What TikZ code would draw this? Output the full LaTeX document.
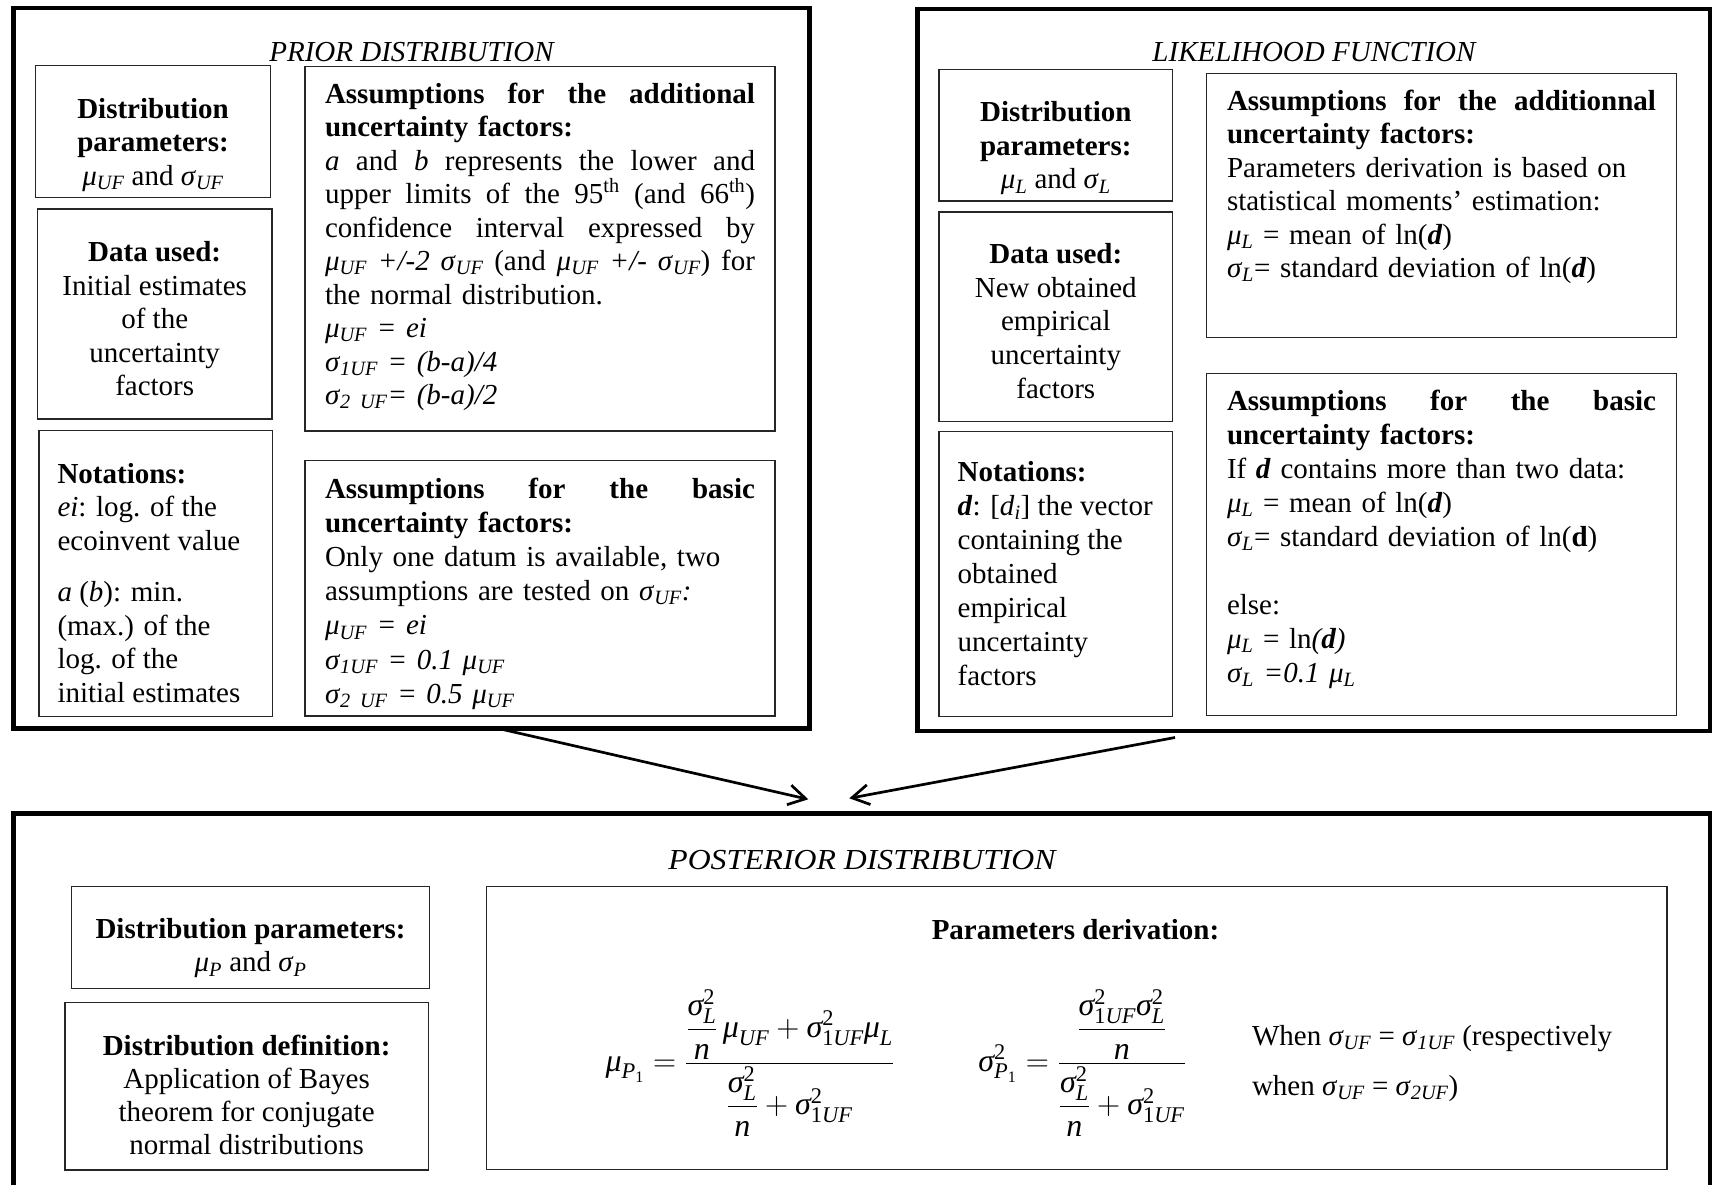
\RequirePackage{fix-cm}
\documentclass[tikz,border=0pt]{standalone}
\usepackage{amsmath}
\usepackage{fontspec}
\setmainfont{Liberation Serif}
\usetikzlibrary{arrows.meta}
\newcommand\mU[1]{\textit{μ}\textsubscript{\itshape #1}}
\newcommand\sU[1]{\textit{σ}\textsubscript{\itshape #1}}
\newcommand\Fs{\text{\itshape σ}}
\newcommand\Fm{\text{\itshape μ}}
\newcommand\Ft[1]{\text{\itshape #1}}
\newcommand\Fn[1]{\text{\upshape #1}}
\newcommand\jline[2]{\leavevmode\hbox to #1{\spaceskip=0.25em plus 1fil\xspaceskip=0.25em plus 1fil #2}}
\tikzset{
  outerbox/.style={draw=black, line width=4.7pt, inner sep=0pt, outer sep=0pt, anchor=north west},
  innerbox/.style={draw=black!85, line width=1.3pt, inner sep=0pt, outer sep=0pt, anchor=north west},
  txt/.style={inner sep=0pt, outer sep=0pt, font=\fontsize{29}{33.5}\selectfont},
  fml/.style={inner sep=0pt, outer sep=0pt, font=\fontsize{32}{36}\selectfont, anchor=base west},
  ttl/.style={inner sep=0pt, outer sep=0pt, font=\fontsize{29}{33.5}\selectfont\itshape, anchor=base},
  arr/.style={line width=2.7pt, -{Straight Barb[length=17pt,width=20pt]}},
}
\begin{document}
\begin{tikzpicture}[x=1pt,y=-1pt]
\useasboundingbox (0,0) rectangle (1714,1184);
\clip (0,0) rectangle (1714,1184);

% outer boxes
\node[outerbox, minimum width=796pt, minimum height=720.5pt] (prior) at (13.5,8) {};
\node[outerbox, minimum width=792.5pt, minimum height=722pt] (lik) at (917.5,9) {};
\node[outerbox, minimum width=1696.5pt, minimum height=386.5pt] (post) at (13.5,813.5) {};

% titles
\node[ttl] (priort) at (411.5,61.7) {PRIOR DISTRIBUTION};
\node[ttl] (likt) at (1314,61.7) {LIKELIHOOD FUNCTION};
\node[ttl] (postt) at (862,869.5) {\scalebox{1.095}[1]{POSTERIOR DISTRIBUTION}};

% prior inner boxes
\node[innerbox, minimum width=234.8pt, minimum height=131.6pt] (dp1) at (35.6,65.7) {};
\node[innerbox, minimum width=234.5pt, minimum height=210pt] (du1) at (37.5,209) {};
\node[innerbox, minimum width=233.5pt, minimum height=286pt] (no1) at (39,430.7) {};
\node[innerbox, minimum width=470pt, minimum height=364.3pt] (aa1) at (305,66.7) {};
\node[innerbox, minimum width=470pt, minimum height=255.3pt] (ab1) at (305,460.7) {};

% likelihood inner boxes
\node[innerbox, minimum width=233.6pt, minimum height=131.7pt] (dp2) at (939,69.3) {};
\node[innerbox, minimum width=233.6pt, minimum height=209.7pt] (du2) at (939,212) {};
\node[innerbox, minimum width=233.6pt, minimum height=285pt] (no2) at (939,431.7) {};
\node[innerbox, minimum width=470.3pt, minimum height=264pt] (aa2) at (1206.4,73.3) {};
\node[innerbox, minimum width=470.3pt, minimum height=342.4pt] (ab2) at (1206.4,373.3) {};

% posterior inner boxes
\node[innerbox, minimum width=357.6pt, minimum height=101.6pt] (dp3) at (71.8,886.7) {};
\node[innerbox, minimum width=363.3pt, minimum height=167.7pt] (dd3) at (64.9,1002.3) {};
\node[innerbox, minimum width=1180.2pt, minimum height=282.6pt] (pd3) at (486.8,886.7) {};

% prior texts
\node[txt, anchor=north, align=center] (dp1t) at (153,94.55)
  {\strut\textbf{Distribution}\\\textbf{parameters:}\\\mU{UF} and \sU{UF}};
\node[txt, anchor=north, align=center] (du1t) at (154.7,238.25)
  {\strut\textbf{Data used:}\\Initial estimates\\of the\\uncertainty\\factors};
\node[txt, anchor=north west, align=left] (no1t) at (57.5,459.55)
  {\strut\textbf{Notations:}\\\textit{ei}: log. of the\\ecoinvent value\\[18pt]\textit{a} (\textit{b}): min.\\(max.) of the\\log. of the\\initial estimates};
\node[txt, anchor=north west, align=left, text width=430pt] (aa1t) at (325,79.55)
  {\strut\jline{430pt}{\textbf{Assumptions for the additional}}\\
   \textbf{uncertainty factors:}\\
   \jline{430pt}{\textit{a} and \textit{b} represents the lower and}\\
   \jline{430pt}{upper limits of the 95\textsuperscript{th} (and 66\textsuperscript{th})}\\
   \jline{430pt}{confidence interval expressed by}\\
   \jline{430pt}{\mU{UF} \textit{+/-2} \sU{UF} (and \mU{UF} \textit{+/-} \sU{UF}) for}\\
   the normal distribution.\\
   \mU{UF} \textit{= ei}\\
   \sU{1UF} \textit{= (b-a)/4}\\
   \sU{2 UF}\textit{= (b-a)/2}};
\node[txt, anchor=north west, align=left, text width=430pt, font=\fontsize{29}{34.2}\selectfont] (ab1t) at (325,474.06)
  {\strut\jline{430pt}{\textbf{Assumptions for the basic}}\\
   \textbf{uncertainty factors:}\\
   Only one datum is available, two\\
   assumptions are tested on \sU{UF}\textit{:}\\
   \mU{UF} \textit{= ei}\\
   \sU{1UF} \textit{= 0.1} \mU{UF}\\
   \sU{2 UF} \textit{= 0.5} \mU{UF}};

% likelihood texts
\node[txt, anchor=north, align=center] (dp2t) at (1055.8,98.25)
  {\strut\textbf{Distribution}\\\textbf{parameters:}\\\mU{L} and \sU{L}};
\node[txt, anchor=north, align=center, font=\fontsize{29}{33.75}\selectfont] (du2t) at (1055.8,239.67)
  {\strut\textbf{Data used:}\\New obtained\\empirical\\uncertainty\\factors};
\node[txt, anchor=north west, align=left, font=\fontsize{29}{33.9}\selectfont] (no2t) at (957.7,457.97)
  {\strut\textbf{Notations:}\\\textbf{\textit{d}}: [\textit{d}\textsubscript{\itshape i}] the vector\\containing the\\obtained\\empirical\\uncertainty\\factors};
\node[txt, anchor=north west, align=left, text width=429pt] (aa2t) at (1227,86.55)
  {\strut\jline{429pt}{\textbf{Assumptions for the additionnal}}\\
   \textbf{uncertainty factors:}\\
   Parameters derivation is based on\\
   statistical moments’ estimation:\\
   \mU{L} = mean of ln(\textbf{\textit{d}})\\
   \sU{L}= standard deviation of ln(\textbf{\textit{d}})};
\node[txt, anchor=north west, align=left, text width=429pt, font=\fontsize{29}{34}\selectfont] (ab2t) at (1227,386.2)
  {\strut\jline{429pt}{\textbf{Assumptions for the basic}}\\
   \textbf{uncertainty factors:}\\
   If \textbf{\textit{d}} contains more than two data:\\
   \mU{L} = mean of ln(\textbf{\textit{d}})\\
   \sU{L}= standard deviation of ln(\textbf{d})\\[34pt]
   else:\\
   \mU{L} = ln\textit{(\textbf{d})}\\
   \sU{L} \textit{=0.1} \mU{L}};

% posterior texts
\node[txt, anchor=north, align=center] (dp3t) at (250.6,914.85)
  {\strut\textbf{Distribution parameters:}\\\mU{P} and \sU{P}};
\node[txt, anchor=north, align=center, font=\fontsize{29}{33.3}\selectfont] (dd3t) at (246.6,1031.69)
  {\strut\textbf{Distribution definition:}\\Application of Bayes\\theorem for conjugate\\normal distributions};
\node[txt, anchor=base] (pdh) at (1075.5,939.3) {\textbf{Parameters derivation:}};
\node[fml] (f1) at (605.6,1071)
  {$\Fm_{\Ft{P}_{\Fn{1}}} = \dfrac{\dfrac{\Fs_{\Ft{L}}^{\Fn{2}}}{\Ft{n}}\,\Fm_{\Ft{UF}}+\Fs_{\Fn{1}\Ft{UF}}^{\Fn{2}}\Fm_{\Ft{L}}}{\dfrac{\Fs_{\Ft{L}}^{\Fn{2}}}{\Ft{n}}+\Fs_{\Fn{1}\Ft{UF}}^{\Fn{2}}}$};
\node[fml] (f2) at (978.4,1071)
  {$\Fs_{\Ft{P}_{\Fn{1}}}^{\Fn{2}} = \dfrac{\dfrac{\Fs_{\Fn{1}\Ft{UF}}^{\Fn{2}}\Fs_{\Ft{L}}^{\Fn{2}}}{\Ft{n}}}{\dfrac{\Fs_{\Ft{L}}^{\Fn{2}}}{\Ft{n}}+\Fs_{\Fn{1}\Ft{UF}}^{\Fn{2}}}$};
\node[txt, anchor=north west, align=left, font=\fontsize{29}{50}\selectfont] (when) at (1252,1010)
  {\strut When \sU{UF} = \sU{1UF} (respectively\\when \sU{UF} = \sU{2UF})};

% arrows
\coordinate (a1s) at ([xshift=489.3pt,yshift=-1pt]prior.south west);
\coordinate (a1e) at ([xshift=794.8pt,yshift=14.2pt]post.north west);
\coordinate (a2s) at ([xshift=257.5pt,yshift=-6.5pt]lik.south west);
\coordinate (a2e) at ([xshift=835.8pt,yshift=15.2pt]post.north west);
\draw[arr] (a1s) -- (a1e);
\draw[arr] (a2s) -- (a2e);
\end{tikzpicture}
\end{document}
